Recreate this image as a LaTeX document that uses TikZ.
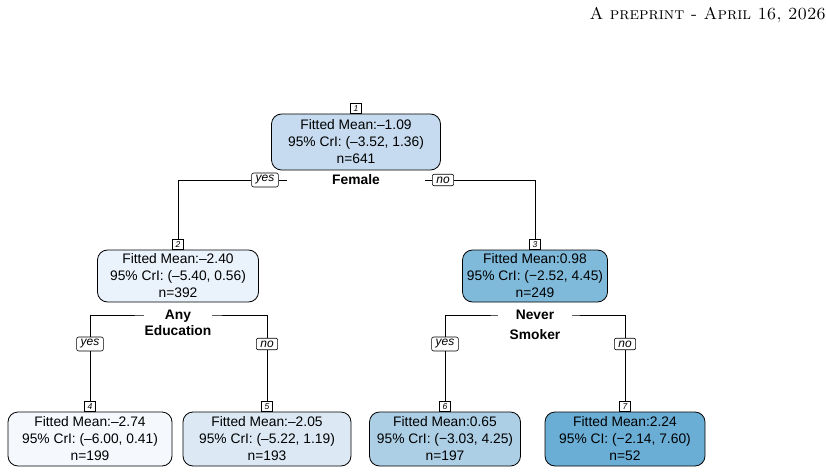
\documentclass[tikz,border=0pt]{standalone}
\usepackage{fontspec}
\newfontfamily\treefont{Liberation Sans}
\definecolor{leafA}{HTML}{C6DBEF}
\definecolor{leafB}{HTML}{EAF2FB}
\definecolor{leafC}{HTML}{80BADB}
\definecolor{leafD}{HTML}{F5F9FE}
\definecolor{leafE}{HTML}{DCE9F5}
\definecolor{leafF}{HTML}{ADCFE6}
\definecolor{leafG}{HTML}{6AAED6}
\tikzset{
  fitbox/.style={draw, line width=0.8pt, rounded corners=10pt, align=center, inner sep=0pt,
    minimum height=54, font=\treefont\fontsize{13.8}{17}\selectfont},
  idtag/.style={draw, fill=white, line width=0.6pt, inner sep=1pt, minimum width=11, minimum height=10,
    anchor=south, font=\treefont\itshape\fontsize{8.5}{8.5}\selectfont},
  answer/.style={draw, fill=white, rounded corners=2pt, line width=0.6pt, inner xsep=4pt, inner ysep=2.5pt,
    font=\treefont\itshape\fontsize{12}{12}\selectfont},
  splitlab/.style={fill=white, align=center, inner xsep=0pt, inner ysep=1pt,
    font=\treefont\bfseries\fontsize{13.8}{16.5}\selectfont},
  branch/.style={line width=0.6pt}
}
\begin{document}
\begin{tikzpicture}[x=1pt,y=-1pt]
  \useasboundingbox (0,0) rectangle (826,473);
  \node[anchor=base east, inner sep=0pt, font=\fontsize{17}{20}\selectfont] (head) at (826,20)
    {\textsc{A preprint - April 16, 2026}};

  % fitted means
  \node[fitbox, fill=leafA, minimum width=169, minimum height=56] (n1) at (356,142)
    {Fitted Mean:–1.09\\95\% CrI: (–3.52, 1.36)\\n=641};
  \node[fitbox, fill=leafB, minimum width=161, minimum height=52] (n2) at (178,276)
    {Fitted Mean:–2.40\\95\% CrI: (–5.40, 0.56)\\n=392};
  \node[fitbox, fill=leafC, minimum width=145, minimum height=52] (n3) at (535,276)
    {Fitted Mean:0.98\\95\% CrI: (−2.52, 4.45)\\n=249};
  \node[fitbox, fill=leafD, minimum width=164] (n4) at (90,439)
    {Fitted Mean:–2.74\\95\% CrI: (–6.00, 0.41)\\n=199};
  \node[fitbox, fill=leafE, minimum width=168] (n5) at (267,439)
    {Fitted Mean:–2.05\\95\% CrI: (–5.22, 1.19)\\n=193};
  \node[fitbox, fill=leafF, minimum width=151] (n6) at (445,439)
    {Fitted Mean:0.65\\95\% CrI: (−3.03, 4.25)\\n=197};
  \node[fitbox, fill=leafG, minimum width=160] (n7) at (625,439)
    {Fitted Mean:2.24\\95\% CI: (−2.14, 7.60)\\n=52};

  \foreach \k in {1,...,7}
    \node[idtag] (id\k) at (n\k.north) {\k};

  % yes / no tags
  \node[answer] (yes1) at (265,180) {yes};
  \node[answer] (no1) at (443,180) {no};
  \node[answer] (yes2) at (90,344) {yes};
  \node[answer] (no2) at (267,344) {no};
  \node[answer] (yes3) at (445,344) {yes};
  \node[answer] (no3) at (625,344) {no};

  \coordinate (cut2) at (178,315);
  \coordinate (cut3) at (535,315);

  % branches
  \draw[branch] (id2.north) |- (yes1.west);
  \draw[branch] (yes1.east) -- (no1.west);
  \draw[branch] (no1.east) -| (id3.north);
  \draw[branch] (yes2.north) |- (cut2) -| (no2.north);
  \draw[branch] (yes3.north) |- (cut3) -| (no3.north);
  \draw[branch] (yes2.south) -- (id4.north);
  \draw[branch] (no2.south) -- (id5.north);
  \draw[branch] (yes3.south) -- (id6.north);
  \draw[branch] (no3.south) -- (id7.north);

  % split labels
  \node[splitlab, minimum width=138] (female) at (356,180) {Female};
  \node[splitlab, minimum width=68] (educ) at (178,323) {Any\\Education};
  \node[splitlab, minimum width=74, font=\treefont\bfseries\fontsize{13.8}{20}\selectfont] (smoke) at (535,325) {Never\\Smoker};
\end{tikzpicture}
\end{document}
